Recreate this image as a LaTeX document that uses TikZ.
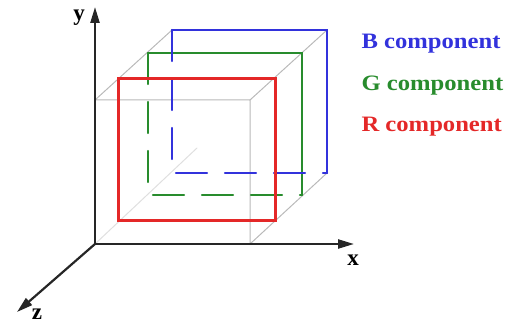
\documentclass[tikz,border=0pt]{standalone}
\usepackage{graphicx}
\usepackage{fontspec}
\setmainfont{Liberation Serif}
\usetikzlibrary{arrows.meta}

\definecolor{compblue}{RGB}{50,50,220}
\definecolor{compgreen}{RGB}{40,140,45}
\definecolor{compred}{RGB}{228,40,40}

\begin{document}
\begin{tikzpicture}[x=1pt,y=-1pt,line cap=round,
    axis/.style={line width=2.2pt,black!85,-{Triangle[length=16pt,width=9pt]}},
    edge/.style={gray!55,line width=1pt},
    hidden/.style={dash pattern=on 31pt off 18pt},
    axislabel/.style={font=\fontsize{23}{23}\selectfont\bfseries},
    complabel/.style={anchor=west,font=\fontsize{22}{22}\selectfont\bfseries}]
    \useasboundingbox (0,0) rectangle (509,326);
    % cube corners
    \coordinate (O) at (95,244);
    \coordinate (fbr) at (250,244);
    \coordinate (ftl) at (95,100);
    \coordinate (ftr) at (250,100);
    \coordinate (btl) at (172,30);
    \coordinate (btr) at (327,30);
    \coordinate (bbr) at (327,173);
    \coordinate (bbl) at (172,173);
    \coordinate (diag) at (197,148);
    % axis tips
    \coordinate (xtip) at (354,244);
    \coordinate (ytip) at (95,7);
    \coordinate (ztip) at (17,312);
    % cube
    \draw[gray!25,line width=1pt] (O) -- (diag);
    \draw[edge] (ftl) -- (ftr) -- (fbr) -- (bbr) -- (btr) -- (btl) -- (ftl);
    \draw[edge] (ftr) -- (btr);
    % green component
    \coordinate (g1) at (148,53);
    \coordinate (g2) at (302,53);
    \coordinate (g3) at (302,195);
    \coordinate (g4) at (148,195);
    \draw[compgreen,line width=2.2pt,hidden] (g1) -- (g4) -- (g3);
    \draw[compgreen,line width=2.2pt] (g1) -- (g2) -- (g3);
    % blue component
    \draw[compblue,line width=2.2pt,hidden] (btl) -- (bbl) -- (bbr);
    \draw[compblue,line width=2.2pt] (btl) -- (btr) -- (bbr);
    % red component
    \coordinate (r1) at (118,79);
    \coordinate (r3) at (275,220);
    \draw[compred,line width=3pt] (r1) rectangle (r3);
    % axes
    \draw[axis] (O) -- (xtip);
    \draw[axis] (O) -- (ytip);
    \draw[axis] (O) -- (ztip);
    \node[axislabel] (ylab) at (79,18) {y};
    \node[axislabel] (xlab) at (353,260) {x};
    \node[axislabel] (zlab) at (37,314) {z};
    % legend
    \node[complabel,text=compblue] (bcomp) at (358,44) {\scalebox{1.12}[1]{B component}};
    \node[complabel,text=compgreen] (gcomp) at (358,86) {\scalebox{1.12}[1]{G component}};
    \node[complabel,text=compred] (rcomp) at (358,127) {\scalebox{1.12}[1]{R component}};
\end{tikzpicture}
\end{document}
